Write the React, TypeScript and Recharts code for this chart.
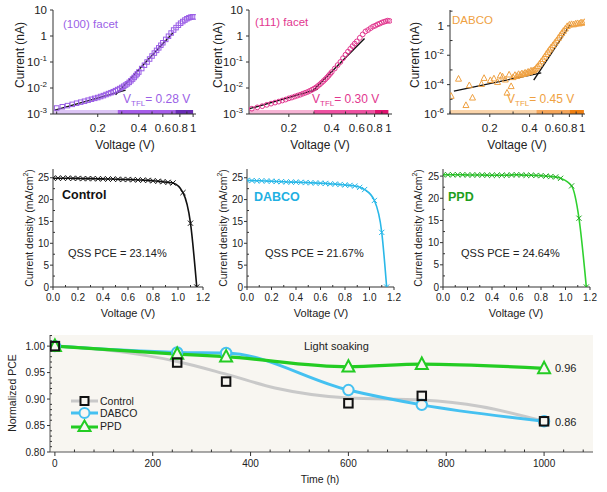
import React from "react";
import {
  ComposedChart,
  Line,
  Scatter,
  XAxis,
  YAxis,
  ReferenceArea,
  CartesianGrid,
} from "recharts";

const FONT = "Arial, 'Liberation Sans', Helvetica, sans-serif";

// ---------- top row: dark I-V curves (log-log) ----------
const facet100V = [0.10, 0.11, 0.12, 0.13, 0.14, 0.15, 0.16, 0.17, 0.18, 0.19, 0.20, 0.21, 0.22, 0.23, 0.24, 0.25, 0.26, 0.27, 0.28, 0.29, 0.30, 0.31, 0.32, 0.33, 0.34, 0.35, 0.36, 0.37, 0.38, 0.39, 0.40, 0.42, 0.44, 0.46, 0.48, 0.50, 0.52, 0.54, 0.56, 0.58, 0.60, 0.63, 0.66, 0.69, 0.72, 0.75, 0.78, 0.81, 0.84, 0.87, 0.90, 0.93, 0.96, 0.99, 1.02];
const facet100I = [1.7e-3, 1.9e-3, 2.1e-3, 2.35e-3, 2.6e-3, 2.85e-3, 3.1e-3, 3.4e-3, 3.7e-3, 4.0e-3, 4.3e-3, 4.7e-3, 5.1e-3, 5.6e-3, 6.1e-3, 6.6e-3, 7.2e-3, 7.9e-3, 8.7e-3, 9.5e-3, 1.05e-2, 1.17e-2, 1.3e-2, 1.45e-2, 1.65e-2, 1.9e-2, 2.2e-2, 2.55e-2, 3.0e-2, 3.5e-2, 4.1e-2, 5.6e-2, 7.5e-2, 0.10, 0.13, 0.17, 0.22, 0.28, 0.35, 0.44, 0.55, 0.74, 0.98, 1.3, 1.7, 2.1, 2.6, 3.1, 3.6, 4.1, 4.6, 5.0, 5.3, 5.5, 5.4];

const facet111V = [0.11, 0.12, 0.13, 0.14, 0.15, 0.16, 0.17, 0.18, 0.19, 0.20, 0.21, 0.22, 0.23, 0.24, 0.25, 0.26, 0.27, 0.28, 0.29, 0.30, 0.31, 0.32, 0.33, 0.34, 0.35, 0.36, 0.37, 0.38, 0.39, 0.40, 0.42, 0.44, 0.46, 0.48, 0.50, 0.52, 0.54, 0.56, 0.58, 0.60, 0.63, 0.66, 0.69, 0.72, 0.75, 0.78, 0.81, 0.84, 0.87, 0.90, 0.93, 0.96, 0.99, 1.02];
const facet111I = [1.6e-3, 1.8e-3, 2.0e-3, 2.25e-3, 2.5e-3, 2.75e-3, 3.0e-3, 3.3e-3, 3.6e-3, 4.0e-3, 4.3e-3, 4.7e-3, 5.1e-3, 5.5e-3, 6.0e-3, 6.5e-3, 7.0e-3, 7.7e-3, 8.5e-3, 9.4e-3, 1.05e-2, 1.2e-2, 1.38e-2, 1.6e-2, 1.85e-2, 2.15e-2, 2.5e-2, 2.95e-2, 3.5e-2, 4.1e-2, 5.6e-2, 7.6e-2, 0.10, 0.14, 0.19, 0.25, 0.32, 0.41, 0.51, 0.62, 0.85, 1.15, 1.5, 1.7, 2.0, 2.3, 2.5, 2.8, 3.0, 3.3, 3.5, 3.7, 3.9, 3.8];

const dabcoIvV = [0.102, 0.116, 0.132, 0.140, 0.148, 0.173, 0.181, 0.202, 0.215, 0.229, 0.240, 0.250, 0.262, 0.270, 0.280, 0.290, 0.300, 0.310, 0.320, 0.330, 0.340, 0.350, 0.360, 0.370, 0.380, 0.390, 0.400, 0.410, 0.420, 0.430, 0.440, 0.450, 0.460, 0.475, 0.490, 0.505, 0.520, 0.535, 0.550, 0.565, 0.580, 0.600, 0.620, 0.640, 0.660, 0.680, 0.700, 0.720, 0.745, 0.770, 0.800, 0.830, 0.860, 0.890, 0.920, 0.950, 0.980, 1.010, 1.040];
const dabcoIvI = [1.7e-5, 2.5e-4, 4e-6, 9e-5, 1.3e-5, 1.1e-4, 2.8e-4, 2.0e-4, 2.6e-4, 1.5e-4, 4.2e-4, 3.5e-4, 2.2e-4, 2.8e-5, 4.8e-4, 7.8e-5, 3.2e-4, 4.5e-4, 3.8e-4, 5.2e-4, 4.6e-4, 5.8e-4, 5.2e-4, 6.5e-4, 6.0e-4, 7.5e-4, 7.0e-4, 9.0e-4, 8.5e-4, 9.5e-4, 1.1e-3, 1.4e-3, 1.8e-3, 2.6e-3, 3.8e-3, 5.5e-3, 8.0e-3, 1.2e-2, 1.7e-2, 2.4e-2, 3.3e-2, 4.8e-2, 7.0e-2, 0.10, 0.15, 0.22, 0.32, 0.45, 0.65, 0.95, 1.2, 1.3, 1.25, 1.4, 1.5, 1.45, 1.7, 1.6, 1.8];

// fitted lines (ohmic / trap-filling)
const fit100Ohmic = [{ v: 0.097, i: 1.4e-3 }, { v: 0.32, i: 8.3e-3 }];
const fit100Tfl = [{ v: 0.27, i: 5.5e-3 }, { v: 0.71, i: 1.3 }];
const fit111Ohmic = [{ v: 0.106, i: 1.6e-3 }, { v: 0.32, i: 9e-3 }];
const fit111Tfl = [{ v: 0.29, i: 7.2e-3 }, { v: 0.68, i: 0.8 }];
const fitDabcoOhmic = [{ v: 0.107, i: 3.6e-5 }, { v: 0.49, i: 6.3e-4 }];
const fitDabcoTfl = [{ v: 0.43, i: 2e-4 }, { v: 0.81, i: 1.17 }];

// regime bars along the bottom (ohmic | TFL | child)
const regions100 = [0.094, 0.28, 0.74, 1.0];
const regions111 = [0.105, 0.30, 0.80, 1.0];
const regionsDabco = [0.1, 0.45, 0.80, 1.03];

const logXMajor = [0.2, 0.4, 0.6, 0.8, 1];
const logXMinor = [0.1, 0.3, 0.5, 0.7, 0.9];
const facetYMajor = [1e-3, 1e-2, 1e-1, 1, 10];
const dabcoYMajor = [1e-6, 1e-4, 1e-2, 1];
const dabcoYMinor = [1e-5, 1e-3, 1e-1, 10];

// ---------- middle row: J-V curves ----------
const ctrlV = [0, 0.04, 0.08, 0.12, 0.16, 0.2, 0.24, 0.28, 0.32, 0.36, 0.4, 0.44, 0.48, 0.52, 0.56, 0.6, 0.64, 0.68, 0.72, 0.76, 0.8, 0.84, 0.88, 0.92, 0.96, 1.04, 1.1, 1.15];
const ctrlJ = [24.9, 24.9, 24.9, 24.9, 24.85, 24.85, 24.8, 24.8, 24.8, 24.75, 24.75, 24.7, 24.7, 24.65, 24.6, 24.6, 24.55, 24.5, 24.45, 24.4, 24.3, 24.2, 24.1, 23.95, 23.8, 21.6, 14.6, 0];
const dabcoV = [0, 0.04, 0.08, 0.12, 0.16, 0.2, 0.24, 0.28, 0.32, 0.36, 0.4, 0.44, 0.48, 0.52, 0.56, 0.6, 0.64, 0.68, 0.72, 0.76, 0.8, 0.84, 0.88, 0.92, 0.96, 1.04, 1.1, 1.14];
const dabcoJ = [24.4, 24.35, 24.3, 24.3, 24.25, 24.2, 24.15, 24.1, 24.05, 24.0, 24.0, 23.95, 23.9, 23.85, 23.8, 23.75, 23.7, 23.6, 23.55, 23.45, 23.35, 23.25, 23.1, 22.8, 22.3, 19.8, 12.5, 0];
const ppdV = [0, 0.04, 0.08, 0.12, 0.16, 0.2, 0.24, 0.28, 0.32, 0.36, 0.4, 0.44, 0.48, 0.52, 0.56, 0.6, 0.64, 0.68, 0.72, 0.76, 0.8, 0.84, 0.88, 0.92, 0.96, 1.05, 1.11, 1.17];
const ppdJ = [25.3, 25.3, 25.3, 25.3, 25.3, 25.25, 25.25, 25.25, 25.25, 25.2, 25.2, 25.2, 25.2, 25.2, 25.25, 25.3, 25.25, 25.2, 25.2, 25.15, 25.1, 25.0, 24.9, 24.8, 24.5, 22.8, 15.5, 0];

const jvXMajor = [0, 0.2, 0.4, 0.6, 0.8, 1.0, 1.2];
const jvXMinor = [0.1, 0.3, 0.5, 0.7, 0.9, 1.1];
const jvYMajor = [0, 5, 10, 15, 20, 25];
const jvYMinor = [2.5, 7.5, 12.5, 17.5, 22.5];

// ---------- bottom: light soaking ----------
const agingT = [0, 250, 350, 600, 750, 1000];
const controlPce = [1.0, 0.969, 0.933, 0.892, 0.906, 0.858];
const dabcoPce = [1.0, 0.988, 0.987, 0.917, 0.889, 0.858];
const ppdPce = [1.0, 0.985, 0.98, 0.961, 0.966, 0.958];
const controlTrendT = [0, 120, 250, 350, 450, 600, 750, 870, 1000];
const controlTrendPce = [1.0, 0.991, 0.971, 0.947, 0.921, 0.902, 0.898, 0.886, 0.858];

const timeMajor = [0, 200, 400, 600, 800, 1000];
const timeMinor = [40, 80, 120, 160, 240, 280, 320, 360, 440, 480, 520, 560, 640, 680, 720, 760, 840, 880, 920, 960, 1040, 1080];
const pceMajor = [0.8, 0.85, 0.9, 0.95, 1.0];
const pceMinor = [0.81, 0.82, 0.83, 0.84, 0.86, 0.87, 0.88, 0.89, 0.91, 0.92, 0.93, 0.94, 0.96, 0.97, 0.98, 0.99, 1.01, 1.02];

const zipIv = (v: number[], i: number[]) => v.map((x, k) => ({ v: x, i: i[k] }));
const zipJv = (v: number[], j: number[]) => v.map((x, k) => ({ v: x, j: j[k] }));
const zipPce = (t: number[], p: number[]) => t.map((x, k) => ({ t: x, p: p[k] }));

// ---------- ticks ----------
const isIn = (arr: number[], v: number) =>
  arr.some((m) => Math.abs(m - v) <= Math.abs(m) * 1e-6 + 1e-9);

type TickCfg = {
  side: "bottom" | "left";
  majors: number[];
  fmt: (v: number) => React.ReactNode;
  size: number;
  len: number;
  minorLen: number;
  gap: number;
};

function axisTick(cfg: TickCfg) {
  return (props: any) => {
    const { x, y, payload } = props;
    const v = Number(payload.value);
    const major = isIn(cfg.majors, v);
    if (cfg.side === "bottom") {
      return (
        <g>
          <line x1={x} x2={x} y1={y} y2={major ? y + cfg.len : y - cfg.minorLen} stroke="#333" />
          {major && (
            <text x={x} y={y + cfg.gap} dy="0.35em" textAnchor="middle" fontSize={cfg.size} fill="#222" fontFamily={FONT}>
              {cfg.fmt(v)}
            </text>
          )}
        </g>
      );
    }
    return (
      <g>
        <line x1={x} x2={major ? x - cfg.len : x + cfg.minorLen} y1={y} y2={y} stroke="#333" />
        {major && (
          <text x={x - cfg.gap} y={y} dy="0.35em" textAnchor="end" fontSize={cfg.size} fill="#222" fontFamily={FONT}>
            {cfg.fmt(v)}
          </text>
        )}
      </g>
    );
  };
}

const powFmt = (v: number) => {
  const e = Math.round(Math.log10(v));
  if (e === 0) return "1";
  if (e === 1) return "10";
  return (
    <>
      <tspan>10</tspan>
      <tspan dy={-5} fontSize={8}>{String(e)}</tspan>
    </>
  );
};

// ---------- marker shapes ----------
const square = (color: string, s: number, w: number, fill = "none") => (p: any) => (
  <rect x={p.cx - s / 2} y={p.cy - s / 2} width={s} height={s} fill={fill} stroke={color} strokeWidth={w} />
);
const circle = (color: string, r: number, w: number, fill = "none") => (p: any) => (
  <circle key={`c${p.index}`} cx={p.cx} cy={p.cy} r={r} fill={fill} stroke={color} strokeWidth={w} />
);
const triangle = (color: string, s: number, w: number, fill = "none") => (p: any) => (
  <polygon
    key={`t${p.index}`}
    points={`${p.cx},${p.cy - s * 0.55} ${p.cx - s / 2},${p.cy + s * 0.4} ${p.cx + s / 2},${p.cy + s * 0.4}`}
    fill={fill}
    stroke={color}
    strokeWidth={w}
  />
);
const cross = (color: string, s: number) => (p: any) => (
  <path
    key={`x${p.index}`}
    d={`M${p.cx - s},${p.cy - s}L${p.cx + s},${p.cy + s}M${p.cx - s},${p.cy + s}L${p.cx + s},${p.cy - s}`}
    stroke={color}
    strokeWidth={1}
    fill="none"
  />
);

type Rect = { x: number; y: number; w: number; h: number };
const AXW = 48;

function IvPanel(props: {
  rect: Rect;
  xDomain: [number, number];
  yDomain: [number, number];
  yMajor: number[];
  yMinor: number[];
  points: { v: number; i: number }[];
  fits: { v: number; i: number }[][];
  regions: number[];
  barColors: string[];
  marker: (p: any) => React.ReactElement;
}) {
  const { rect, xDomain, yDomain } = props;
  const inX = (t: number) => t >= xDomain[0] && t <= xDomain[1];
  const xTicks = [...logXMajor, ...logXMinor].filter(inX).sort((a, b) => a - b);
  const yTicks = [...props.yMajor, ...props.yMinor].sort((a, b) => a - b);
  const bars = props.barColors.map((c, k) => ({
    color: c,
    data: [
      { v: props.regions[k], i: yDomain[0] },
      { v: props.regions[k + 1], i: yDomain[0] },
    ],
  }));
  return (
    <div style={{ position: "absolute", left: rect.x - AXW, top: rect.y - 6 }}>
      <ComposedChart width={rect.w + AXW + 8} height={rect.h + 6 + 34} margin={{ top: 6, right: 8, left: 0, bottom: 0 }}>
        <XAxis
          dataKey="v"
          type="number"
          scale="log"
          domain={xDomain}
          allowDataOverflow
          ticks={xTicks}
          interval={0}
          height={34}
          tickSize={0}
          tickMargin={0}
          tickLine={false}
          axisLine={{ stroke: "#333" }}
          tick={axisTick({ side: "bottom", majors: logXMajor, fmt: (v) => String(v), size: 11.5, len: 3, minorLen: 2.5, gap: 14 })}
        />
        <YAxis
          dataKey="i"
          type="number"
          scale="log"
          domain={yDomain}
          allowDataOverflow
          ticks={yTicks}
          interval={0}
          width={AXW}
          tickSize={0}
          tickMargin={0}
          tickLine={false}
          axisLine={{ stroke: "#333" }}
          tick={axisTick({ side: "left", majors: props.yMajor, fmt: powFmt, size: 11.5, len: 3, minorLen: 2.5, gap: 6 })}
        />
        <ReferenceArea fill="none" stroke="#333" ifOverflow="visible" />
        {bars.map((b, k) => (
          <Line key={`b${k}`} data={b.data} dataKey="i" type="linear" stroke={b.color} strokeWidth={8} dot={false} isAnimationActive={false} />
        ))}
        <Scatter data={props.points} shape={props.marker} isAnimationActive={false} />
        {props.fits.map((f, k) => (
          <Line key={`f${k}`} data={f} dataKey="i" type="linear" stroke="#111" strokeWidth={1.4} dot={false} isAnimationActive={false} />
        ))}
      </ComposedChart>
    </div>
  );
}

function JvPanel(props: {
  rect: Rect;
  yMax: number;
  data: { v: number; j: number }[];
  color: string;
  markColor: string;
}) {
  const { rect } = props;
  return (
    <div style={{ position: "absolute", left: rect.x - AXW, top: rect.y - 6 }}>
      <ComposedChart width={rect.w + AXW + 8} height={rect.h + 6 + 26} margin={{ top: 6, right: 8, left: 0, bottom: 0 }}>
        <XAxis
          dataKey="v"
          type="number"
          domain={[0, 1.2]}
          allowDataOverflow
          ticks={[...jvXMajor, ...jvXMinor].sort((a, b) => a - b)}
          interval={0}
          height={26}
          tickSize={0}
          tickMargin={0}
          tickLine={false}
          axisLine={{ stroke: "#333" }}
          tick={axisTick({ side: "bottom", majors: jvXMajor, fmt: (v) => v.toFixed(1), size: 10, len: 3, minorLen: 2, gap: 10 })}
        />
        <YAxis
          dataKey="j"
          type="number"
          domain={[0, props.yMax]}
          allowDataOverflow
          ticks={[...jvYMajor, ...jvYMinor].sort((a, b) => a - b)}
          interval={0}
          width={AXW}
          tickSize={0}
          tickMargin={0}
          tickLine={false}
          axisLine={{ stroke: "#333" }}
          tick={axisTick({ side: "left", majors: jvYMajor, fmt: (v) => String(v), size: 10, len: 3, minorLen: 2, gap: 4 })}
        />
        <ReferenceArea fill="none" stroke="#333" ifOverflow="visible" />
        <Line
          data={props.data}
          dataKey="j"
          type="monotone"
          stroke={props.color}
          strokeWidth={1.6}
          dot={cross(props.markColor, 2.6)}
          isAnimationActive={false}
        />
      </ComposedChart>
    </div>
  );
}

const BG = "#f8f6f1";

function AgingPanel() {
  const rect: Rect = { x: 50, y: 335, w: 543, h: 117 };
  return (
    <div style={{ position: "absolute", left: rect.x - AXW, top: rect.y - 6 }}>
      <ComposedChart width={rect.w + AXW + 8} height={rect.h + 6 + 26} margin={{ top: 6, right: 8, left: 0, bottom: 0 }}>
        <CartesianGrid fill={BG} horizontal={false} vertical={false} />
        <XAxis
          dataKey="t"
          type="number"
          domain={[-10, 1100]}
          allowDataOverflow
          ticks={[...timeMajor, ...timeMinor].sort((a, b) => a - b)}
          interval={0}
          height={26}
          tickSize={0}
          tickMargin={0}
          tickLine={false}
          axisLine={{ stroke: "#555" }}
          tick={axisTick({ side: "bottom", majors: timeMajor, fmt: (v) => String(v), size: 10, len: 4, minorLen: 2.5, gap: 11 })}
        />
        <YAxis
          dataKey="p"
          type="number"
          domain={[0.8, 1.021]}
          allowDataOverflow
          ticks={[...pceMajor, ...pceMinor].sort((a, b) => a - b)}
          interval={0}
          width={AXW}
          tickSize={0}
          tickMargin={0}
          tickLine={false}
          axisLine={{ stroke: "#555" }}
          tick={axisTick({ side: "left", majors: pceMajor, fmt: (v) => v.toFixed(2), size: 10, len: 3, minorLen: 2, gap: 5 })}
        />
        <ReferenceArea fill="none" stroke="#555" ifOverflow="visible" />
        <Line data={zipPce(controlTrendT, controlTrendPce)} dataKey="p" type="monotone" stroke="#c9c9c9" strokeWidth={3} dot={false} isAnimationActive={false} />
        <Line data={zipPce(agingT, dabcoPce)} dataKey="p" type="monotone" stroke="#45c1f1" strokeWidth={3} dot={circle("#45c1f1", 5.2, 2, BG)} isAnimationActive={false} />
        <Line data={zipPce(agingT, ppdPce)} dataKey="p" type="monotone" stroke="#23cc23" strokeWidth={3.2} dot={triangle("#23cc23", 12, 2, BG)} isAnimationActive={false} />
        <Scatter data={zipPce(agingT, controlPce)} dataKey="p" shape={square("#111", 8.5, 2, "none")} isAnimationActive={false} />
      </ComposedChart>
    </div>
  );
}

// ---------- text helpers ----------
function Txt(props: { x: number; y: number; size?: number; color?: string; bold?: boolean; center?: boolean; rotate?: boolean; children: React.ReactNode }) {
  const t = props.rotate
    ? "translate(-50%, -50%) rotate(-90deg)"
    : props.center
    ? "translate(-50%, -50%)"
    : "translateY(-50%)";
  return (
    <div
      style={{
        position: "absolute",
        left: props.x,
        top: props.y,
        transform: t,
        whiteSpace: "nowrap",
        lineHeight: 1,
        fontSize: props.size ?? 11,
        color: props.color ?? "#222",
        fontWeight: props.bold ? "bold" : "normal",
      }}
    >
      {props.children}
    </div>
  );
}

const Vtfl = ({ value }: { value: string }) => (
  <>
    V<sub style={{ fontSize: 8, verticalAlign: "-3px" }}>TFL</sub>= {value} V
  </>
);

function LegendRow({ y, label, symbol }: { y: number; label: string; symbol: React.ReactNode }) {
  return (
    <div style={{ position: "absolute", left: 71, top: y - 6, height: 12, display: "flex", alignItems: "center" }}>
      <svg width={28} height={14} style={{ display: "block" }}>
        {symbol}
      </svg>
      <span style={{ fontSize: 10.5, color: "#222", marginLeft: 1 }}>{label}</span>
    </div>
  );
}

const purple = "#9b5fe6";
const pink = "#e2378f";
const orange = "#efa142";

export default function App() {
  return (
    <div
      style={{
        position: "absolute",
        left: 0,
        top: 0,
        width: 607,
        height: 492,
        background: "#fff",
        fontFamily: FONT,
        overflow: "hidden",
      }}
    >
      {/* top row */}
      <IvPanel
        rect={{ x: 53, y: 10, w: 143, h: 104 }}
        xDomain={[0.094, 1.05]}
        yDomain={[1e-3, 10]}
        yMajor={facetYMajor}
        yMinor={[]}
        points={zipIv(facet100V, facet100I)}
        fits={[fit100Ohmic, fit100Tfl]}
        regions={regions100}
        barColors={["#dcc4f5", "#a65de9", "#6a2cb5"]}
        marker={square(purple, 4.5, 1)}
      />
      <IvPanel
        rect={{ x: 249, y: 10, w: 143, h: 104 }}
        xDomain={[0.105, 1.06]}
        yDomain={[1e-3, 10]}
        yMajor={facetYMajor}
        yMinor={[]}
        points={zipIv(facet111V, facet111I)}
        fits={[fit111Ohmic, fit111Tfl]}
        regions={regions111}
        barColors={["#f6b3d4", "#ee51a1", "#e0126f"]}
        marker={circle(pink, 2.4, 1)}
      />
      <IvPanel
        rect={{ x: 450, y: 10, w: 135, h: 104 }}
        xDomain={[0.1, 1.05]}
        yDomain={[1e-6, 12]}
        yMajor={dabcoYMajor}
        yMinor={dabcoYMinor}
        points={zipIv(dabcoIvV, dabcoIvI)}
        fits={[fitDabcoOhmic, fitDabcoTfl]}
        regions={regionsDabco}
        barColors={["#fad4aa", "#f5a65b", "#f08012"]}
        marker={triangle(orange, 6, 1)}
      />

      <Txt x={63} y={25} size={11.5} color={purple}>(100) facet</Txt>
      <Txt x={123} y={100} size={12} color={purple}><Vtfl value="0.28" /></Txt>
      <Txt x={255} y={23} size={11.5} color={pink}>(111) facet</Txt>
      <Txt x={312} y={100} size={12} color={pink}><Vtfl value="0.30" /></Txt>
      <Txt x={452} y={21} size={11.5} color={orange}>DABCO</Txt>
      <Txt x={507} y={100} size={12} color={orange}><Vtfl value="0.45" /></Txt>

      <Txt x={20} y={55} size={12} rotate>Current (nA)</Txt>
      <Txt x={218} y={55} size={12} rotate>Current (nA)</Txt>
      <Txt x={415} y={55} size={12} rotate>Current (nA)</Txt>
      <Txt x={125} y={145} size={12} center>Voltage (V)</Txt>
      <Txt x={320} y={145} size={12} center>Voltage (V)</Txt>
      <Txt x={517} y={145} size={12} center>Voltage (V)</Txt>

      {/* middle row */}
      <JvPanel rect={{ x: 53, y: 169, w: 150, h: 118 }} yMax={27} data={zipJv(ctrlV, ctrlJ)} color="#111" markColor="#111" />
      <JvPanel rect={{ x: 247, y: 169, w: 147, h: 118 }} yMax={27} data={zipJv(dabcoV, dabcoJ)} color="#2ab8e8" markColor="#2ab8e8" />
      <JvPanel rect={{ x: 443, y: 169, w: 147, h: 118 }} yMax={26.6} data={zipJv(ppdV, ppdJ)} color="#2fd12f" markColor="#23a823" />

      <Txt x={62} y={195} size={12.5} bold color="#111">Control</Txt>
      <Txt x={68} y={253} size={11}>QSS PCE = 23.14%</Txt>
      <Txt x={254} y={197} size={12.5} bold color="#1fb0e2">DABCO</Txt>
      <Txt x={265} y={253} size={11}>QSS PCE = 21.67%</Txt>
      <Txt x={448} y={197} size={12.5} bold color="#1e9e1e">PPD</Txt>
      <Txt x={461} y={253} size={11}>QSS PCE = 24.64%</Txt>

      <Txt x={28} y={228} size={10.5} rotate>Current density (mA/cm<sup style={{ fontSize: 7 }}>2</sup>)</Txt>
      <Txt x={222} y={228} size={10.5} rotate>Current density (mA/cm<sup style={{ fontSize: 7 }}>2</sup>)</Txt>
      <Txt x={417} y={228} size={10.5} rotate>Current density (mA/cm<sup style={{ fontSize: 7 }}>2</sup>)</Txt>
      <Txt x={128} y={313} size={11} center>Voltage (V)</Txt>
      <Txt x={321} y={313} size={11} center>Voltage (V)</Txt>
      <Txt x={516} y={313} size={11} center>Voltage (V)</Txt>

      {/* bottom */}
      <AgingPanel />
      <Txt x={304} y={346} size={11}>Light soaking</Txt>
      <Txt x={555} y={368} size={11}>0.96</Txt>
      <Txt x={555} y={422} size={11}>0.86</Txt>
      <Txt x={12} y={393} size={10.5} rotate>Normalized PCE</Txt>
      <Txt x={320} y={479} size={10.5} center>Time (h)</Txt>

      <LegendRow
        y={401}
        label="Control"
        symbol={
          <>
            <line x1={0} x2={27} y1={7} y2={7} stroke="#c9c9c9" strokeWidth={3} />
            <rect x={9.5} y={3} width={8} height={8} fill={BG} stroke="#111" strokeWidth={2} />
          </>
        }
      />
      <LegendRow
        y={413}
        label="DABCO"
        symbol={
          <>
            <line x1={0} x2={27} y1={7} y2={7} stroke="#45c1f1" strokeWidth={3} />
            <circle cx={13.5} cy={7} r={5} fill={BG} stroke="#45c1f1" strokeWidth={2} />
          </>
        }
      />
      <LegendRow
        y={426}
        label="PPD"
        symbol={
          <>
            <line x1={0} x2={27} y1={8} y2={8} stroke="#23cc23" strokeWidth={3} />
            <polygon points="13.5,1.5 7.5,12 19.5,12" fill={BG} stroke="#23cc23" strokeWidth={2} />
          </>
        }
      />
    </div>
  );
}
